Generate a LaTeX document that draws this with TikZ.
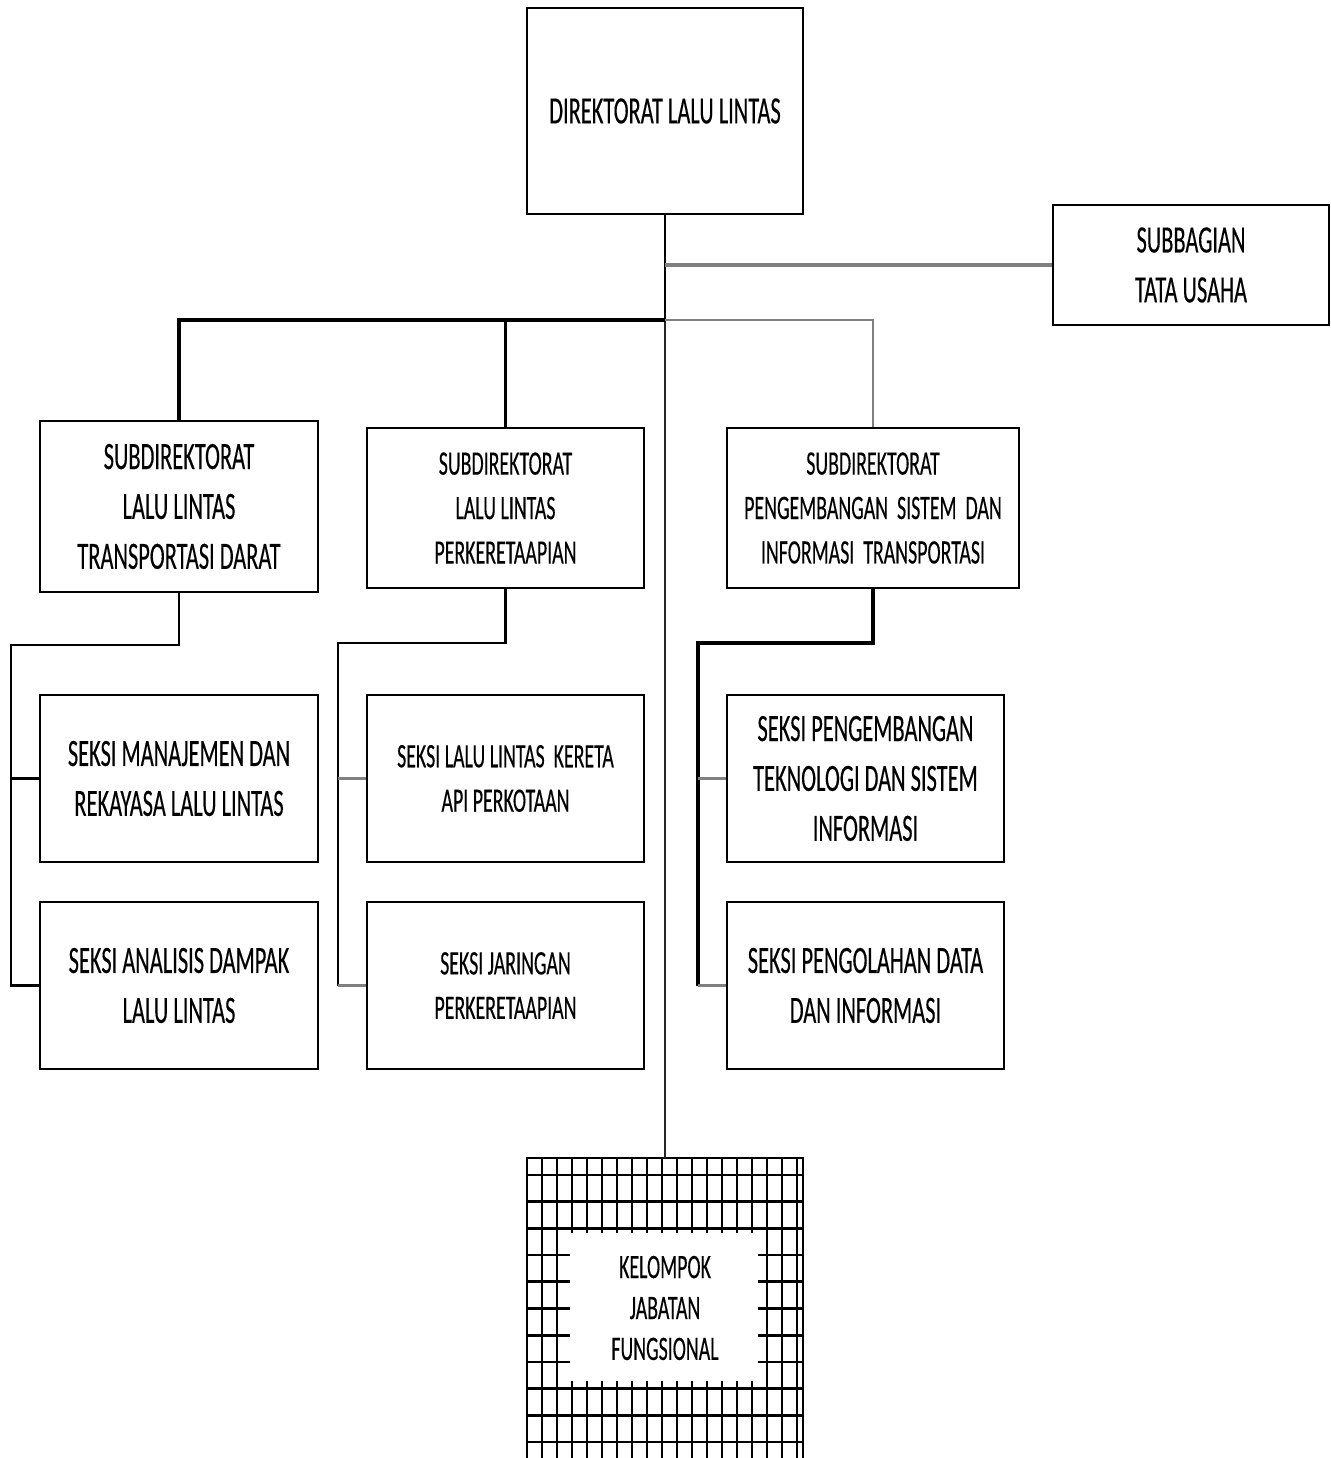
\documentclass[tikz,border=0pt]{standalone}
\usepackage{fontspec}
\setmainfont{Carlito}[FakeStretch=0.58, FakeBold=0.3]
\usepackage{xcolor}
\usepackage{tikz}
\usetikzlibrary{positioning}
\definecolor{linegray}{RGB}{128,128,128}
\newcommand{\bigtext}{\fontsize{22}{28.4}\selectfont}
\newcommand{\smalltext}{\fontsize{19.5}{25.3}\selectfont}

\begin{document}
\begin{tikzpicture}[x=0.02cm, y=-0.02cm,
  unitbox/.style={draw, line width=1.5pt, fill=white, align=center, inner sep=0pt},
  bigunit/.style={unitbox, font=\bigtext},
  smallunit/.style={unitbox, font=\smalltext},
  darkline/.style={line width=1.4pt, black},
  greyline/.style={line width=1.7pt, linegray}]
  \useasboundingbox (0,0) rectangle (1330,1458);

  % Kelompok jabatan fungsional (grid box)
  \foreach \k in {1,...,18} {
    \draw[line width=1.5pt] ({527+15*\k},1158) -- ({527+15*\k},1458);
  }
  \foreach \k in {0,...,10} {
    \draw[line width=1.5pt] (527,{1175+26.7*\k}) -- (803,{1175+26.7*\k});
  }
  \fill[white] (570,1233) rectangle (758,1381);
  \draw[darkline, line width=1.6pt] (527,1458) |- (665,1158) -| (803,1458);
  \coordinate (kjftop) at (665,1158);
  \node[font=\smalltext, align=center, inner sep=0pt] (kjf) at (665,1308)
    {KELOMPOK\\[-2pt]JABATAN\\[-2pt]FUNGSIONAL};

  % Direktorat and staff
  \node[bigunit, minimum width=5.52cm, minimum height=4.12cm] (dir) at (665,111)
    {DIREKTORAT LALU LINTAS};
  \node[bigunit, minimum width=5.52cm, minimum height=2.4cm] (tu) at (1191,265)
    {SUBBAGIAN\\TATA USAHA};

  % Subdirektorat
  \node[bigunit, minimum width=5.56cm, minimum height=3.42cm] (sd1) at (179,506.5)
    {SUBDIREKTORAT\\LALU LINTAS\\TRANSPORTASI DARAT};
  \node[smallunit, minimum width=5.54cm, minimum height=3.2cm] (sd2) at (505.5,508)
    {SUBDIREKTORAT\\LALU LINTAS\\PERKERETAAPIAN};
  \node[smallunit, minimum width=5.84cm, minimum height=3.2cm] (sd3) at (873,508)
    {SUBDIREKTORAT\\PENGEMBANGAN\ \ SISTEM\ \ DAN\\INFORMASI\ \ TRANSPORTASI};

  % Seksi
  \node[bigunit, minimum width=5.56cm, minimum height=3.34cm] (s1a) at (179,778.5)
    {SEKSI MANAJEMEN DAN\\REKAYASA LALU LINTAS};
  \node[bigunit, minimum width=5.56cm, minimum height=3.34cm] (s1b) at (179,985.5)
    {SEKSI ANALISIS DAMPAK\\LALU LINTAS};
  \node[smallunit, minimum width=5.54cm, minimum height=3.34cm] (s2a) at (505.5,778.5)
    {SEKSI LALU LINTAS\ \ KERETA\\API PERKOTAAN};
  \node[smallunit, minimum width=5.54cm, minimum height=3.34cm] (s2b) at (505.5,985.5)
    {SEKSI JARINGAN\\PERKERETAAPIAN};
  \node[bigunit, minimum width=5.54cm, minimum height=3.34cm] (s3a) at (865.5,778.5)
    {SEKSI PENGEMBANGAN\\TEKNOLOGI DAN SISTEM\\INFORMASI};
  \node[bigunit, minimum width=5.54cm, minimum height=3.34cm] (s3b) at (865.5,985.5)
    {SEKSI PENGOLAHAN DATA\\DAN INFORMASI};

  % Lines from the direktorat
  \coordinate (bus) at (665,320);
  \draw[line width=1pt, black!85] (dir.south) -- (kjftop);
  \draw[line width=1.6pt] (dir.south) -- (bus);
  \draw[greyline, line width=2.3pt] (tu.west) -- (tu.west -| dir.south);
  \draw[darkline, line width=1.8pt] (sd1.north) |- (bus);
  \draw[darkline] (sd2.north) -- (sd2.north |- bus);
  \draw[greyline, line width=1.4pt] (sd3.north) |- (bus);

  % Lines to the seksi
  \coordinate (l1) at (11,645);
  \coordinate (l2) at (338,643);
  \coordinate (l3) at (698,643);
  \draw[darkline] (sd1.south) |- (l1) |- (s1a.west);
  \draw[darkline] (l1) |- (s1b.west);
  \draw[darkline] (sd2.south) |- (l2) -- (l2 |- s2b.west);
  \draw[greyline] (l2 |- s2a.west) -- (s2a.west);
  \draw[greyline] (l2 |- s2b.west) -- (s2b.west);
  \draw[darkline, line width=1.8pt] (sd3.south) |- (l3) -- (l3 |- s3b.west);
  \draw[greyline] (l3 |- s3a.west) -- (s3a.west);
  \draw[greyline] (l3 |- s3b.west) -- (s3b.west);
\end{tikzpicture}
\end{document}
